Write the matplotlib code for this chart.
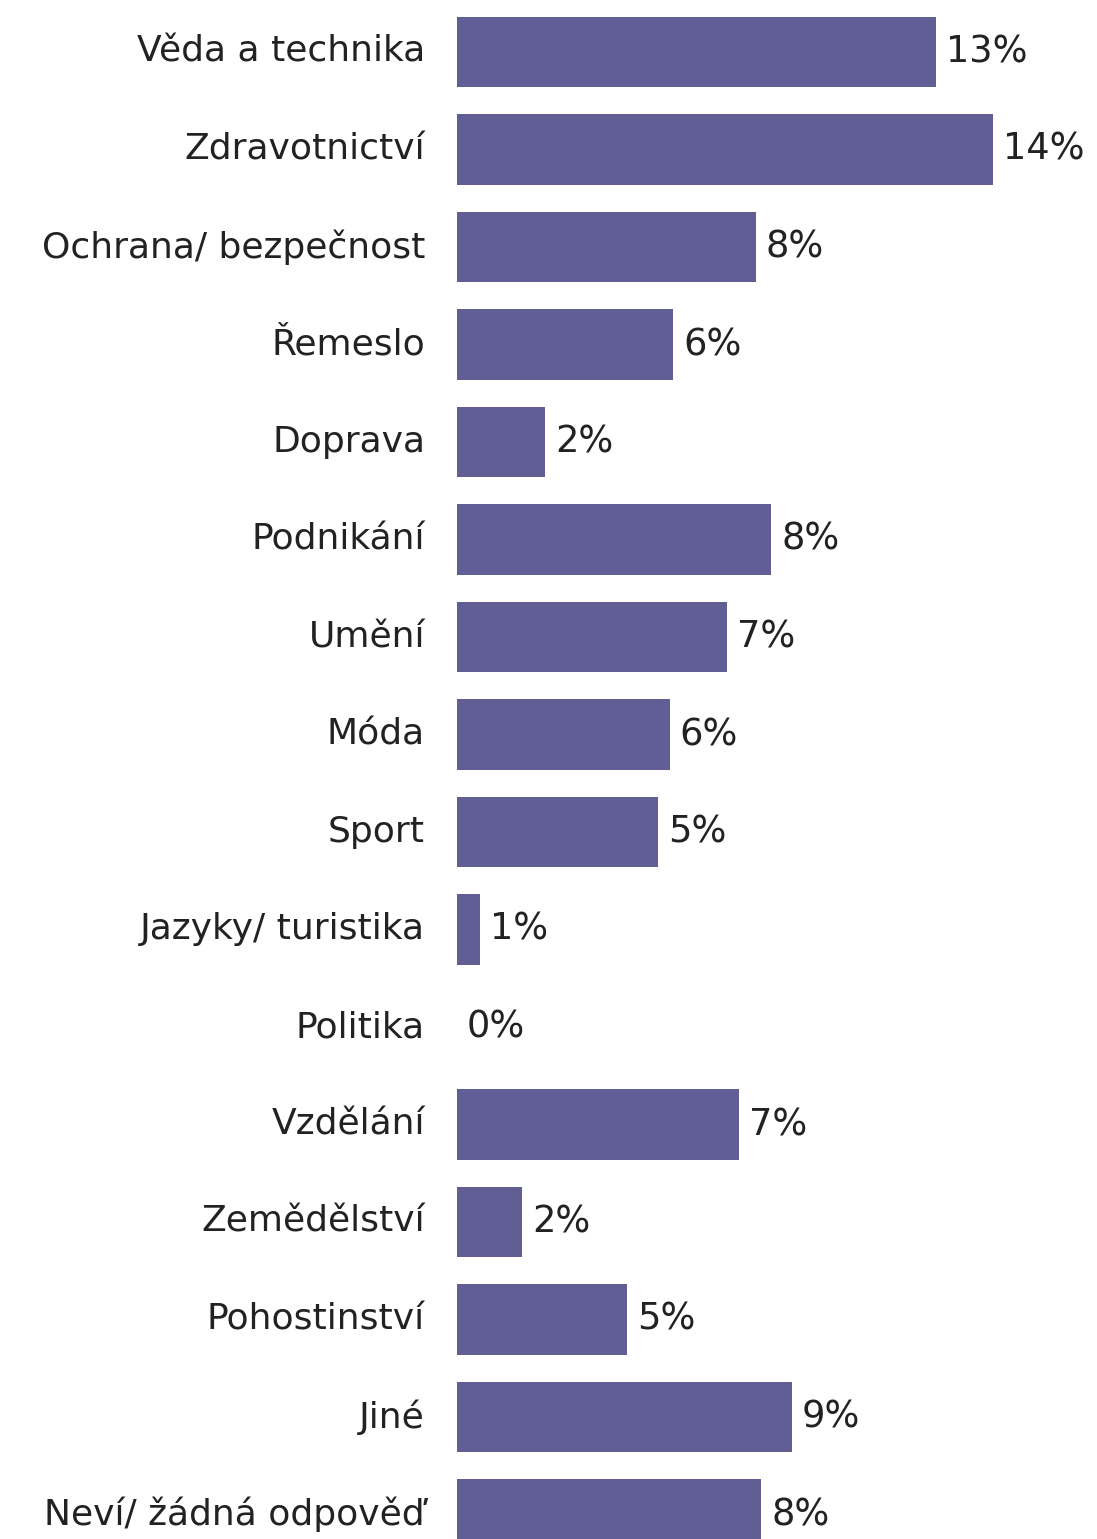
import matplotlib
matplotlib.use("Agg")
import matplotlib.pyplot as plt

categories = ["Věda a technika", "Zdravotnictví", "Ochrana/ bezpečnost", "Řemeslo",
              "Doprava", "Podnikání", "Umění", "Móda", "Sport", "Jazyky/ turistika",
              "Politika", "Vzdělání", "Zemědělství", "Pohostinství", "Jiné",
              "Neví/ žádná odpověď"]
values = [12.5, 14.0, 7.8, 5.65, 2.3, 8.2, 7.05, 5.55, 5.25, 0.6,
          0.0, 7.35, 1.7, 4.45, 8.75, 7.95]
value_labels = ["13%", "14%", "8%", "6%", "2%", "8%", "7%", "6%", "5%", "1%",
                "0%", "7%", "2%", "5%", "9%", "8%"]

W, H = 1097, 1539
fig = plt.figure(figsize=(W / 100, H / 100), dpi=100)
ax = fig.add_axes([457 / W, 0, 620 / W, 1])

px_per_pct = 38.3
ax.set_xlim(0, 620 / px_per_pct)
ax.set_ylim((H - 52) / 97.5, -52 / 97.5)

bar_color = "#615D95"
ys = list(range(len(categories)))
ax.barh(ys, values, height=0.72, color=bar_color)

for y, v, lab, cat in zip(ys, values, value_labels, categories):
    ax.text(v + 10 / px_per_pct, y, lab, va="center", ha="left",
            fontsize=26.5, color="#222222", clip_on=False)
    ax.text(-32 / px_per_pct, y, cat, va="center", ha="right",
            fontsize=26, color="#222222", clip_on=False)

ax.axis("off")
fig.savefig("out.png", dpi=100)
